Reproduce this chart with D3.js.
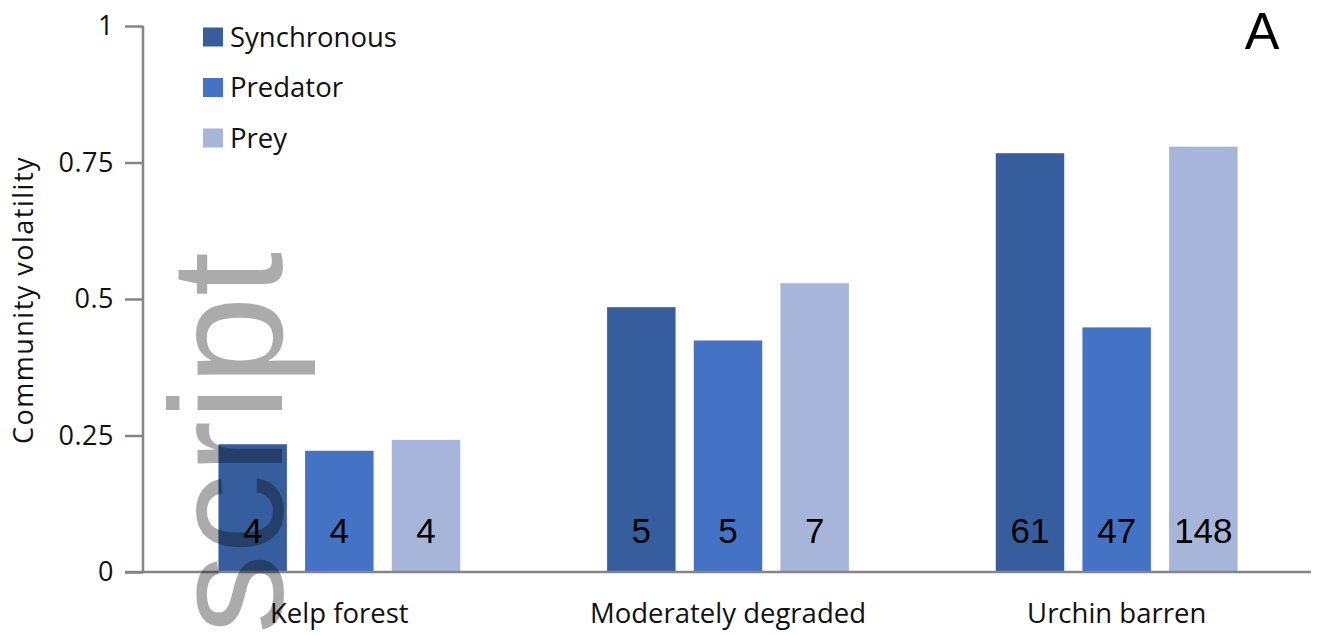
<!DOCTYPE html>
<html>
<head>
<meta charset="utf-8">
<script src="https://cdn.jsdelivr.net/npm/d3@7"></script>
<style>
  body { margin: 0; background: #fff; }
</style>
</head>
<body>
<div id="viscontainer"></div>
<script>
const categories = ["Kelp forest", "Moderately degraded", "Urchin barren"];
const seriesNames = ["Synchronous", "Predator", "Prey"];
const synchronousValues = [0.234, 0.485, 0.767];
const predatorValues = [0.222, 0.424, 0.448];
const preyValues = [0.242, 0.529, 0.779];
const synchronousCounts = [4, 5, 61];
const predatorCounts = [4, 5, 47];
const preyCounts = [4, 7, 148];
const yTicks = [0, 0.25, 0.5, 0.75, 1];
const colors = ["#365e9f", "#4472c4", "#a8b5da"];

const width = 1317;
const height = 635;
const uiFont = "'Open Sans', 'Noto Sans', sans-serif";
const axisColor = "#858585";

const values = [synchronousValues, predatorValues, preyValues];
const counts = [synchronousCounts, predatorCounts, preyCounts];

const rows = [];
categories.forEach((c, i) => {
  seriesNames.forEach((s, j) => {
    rows.push({ category: c, series: s, value: values[j][i], n: counts[j][i], color: colors[j] });
  });
});

const svg = d3.select("#viscontainer")
  .append("svg")
  .attr("width", width)
  .attr("height", height);

const x0 = d3.scaleBand()
  .domain(categories)
  .range([145, 1311]);

const x1 = d3.scaleBand()
  .domain(seriesNames)
  .range([-130, 130])
  .paddingInner(0.21)
  .paddingOuter(0.105);

const y = d3.scaleLinear()
  .domain([0, 1])
  .range([572, 26]);

// bars
svg.append("g")
  .selectAll("rect")
  .data(rows)
  .join("rect")
  .attr("x", d => x0(d.category) + x0.bandwidth() / 2 + x1(d.series))
  .attr("y", d => y(d.value))
  .attr("width", x1.bandwidth())
  .attr("height", d => y(0) - y(d.value))
  .attr("fill", d => d.color);

// counts inside bars
svg.append("g")
  .selectAll("text")
  .data(rows)
  .join("text")
  .attr("x", d => x0(d.category) + x0.bandwidth() / 2 + x1(d.series) + x1.bandwidth() / 2)
  .attr("y", 543)
  .attr("text-anchor", "middle")
  .attr("font-family", "Arial, 'Liberation Sans', sans-serif")
  .attr("font-size", 35)
  .attr("fill", "#000")
  .text(d => d.n);

// y axis
const yAxis = svg.append("g")
  .attr("transform", "translate(143,0)")
  .call(d3.axisLeft(y).tickValues(yTicks).tickSize(18).tickPadding(11)
    .tickFormat(d => d === 0 || d === 1 ? d3.format("d")(d) : String(d)));

yAxis.select(".domain").attr("stroke", axisColor).attr("stroke-width", 2.5)
  .attr("d", `M0,${y(1)}V${y(0)}`);
yAxis.selectAll(".tick line").attr("stroke", axisColor).attr("stroke-width", 2.5);
yAxis.selectAll(".tick text")
  .attr("font-family", uiFont)
  .attr("font-size", 27)
  .attr("letter-spacing", 0.5)
  .attr("fill", "#111");

// x axis baseline
svg.append("line")
  .attr("x1", 125)
  .attr("x2", 1311)
  .attr("y1", y(0))
  .attr("y2", y(0))
  .attr("stroke", axisColor)
  .attr("stroke-width", 2.5);

// category labels
svg.append("g")
  .selectAll("text")
  .data(categories)
  .join("text")
  .attr("x", d => x0(d) + x0.bandwidth() / 2)
  .attr("y", 623)
  .attr("text-anchor", "middle")
  .attr("font-family", uiFont)
  .attr("font-size", 27.5)
  .attr("fill", "#111")
  .text(d => d);

// y title
svg.append("text")
  .attr("transform", "translate(33,300) rotate(-90)")
  .attr("text-anchor", "middle")
  .attr("font-family", uiFont)
  .attr("font-size", 27)
  .attr("letter-spacing", 1.5)
  .attr("fill", "#111")
  .text("Community volatility");

// legend
const legend = svg.append("g")
  .selectAll("g")
  .data(seriesNames)
  .join("g")
  .attr("transform", (d, i) => `translate(203,${37 + i * 50.5})`);

legend.append("rect")
  .attr("x", 0)
  .attr("y", -9.5)
  .attr("width", 20)
  .attr("height", 19)
  .attr("fill", (d, i) => colors[i]);

legend.append("text")
  .attr("x", 27)
  .attr("y", 9.5)
  .attr("font-family", uiFont)
  .attr("font-size", 27.5)
  .attr("fill", "#111")
  .text(d => d);

// panel letter
svg.append("text")
  .attr("x", 1262)
  .attr("y", 49)
  .attr("text-anchor", "middle")
  .attr("font-family", "Arial, 'Liberation Sans', sans-serif")
  .attr("font-size", 52)
  .attr("fill", "#000")
  .text("A");

// watermark
svg.append("text")
  .attr("transform", "translate(282,634) rotate(-90)")
  .attr("font-family", "Arial, 'Liberation Sans', sans-serif")
  .attr("font-size", 160)
  .attr("fill", "#000")
  .attr("fill-opacity", 0.33)
  .text("script");
</script>
</body>
</html>
